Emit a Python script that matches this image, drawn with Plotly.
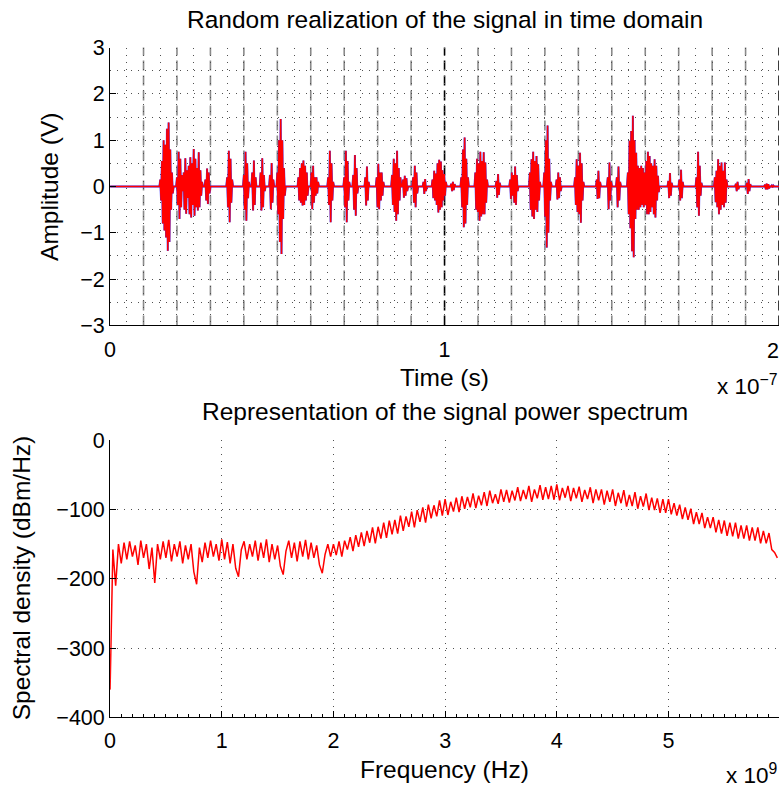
import plotly.graph_objects as go
import numpy as np

FONT = "Liberation Sans, Arial, sans-serif"

# ---------------- time-domain signal ----------------
# each pulse: start time (ns) and the successive peak values (V)
DT_NS = 0.25
pulse_start_ns = [15.0, 20.0, 22.0, 28.5, 35.0, 40.0, 42.5, 45.0, 47.8, 50.0,
                  56.3, 60.2, 65.2, 70.0, 72.7, 76.3, 79.7, 84.3, 87.6, 90.6,
                  93.7, 96.4, 102.0, 105.0, 109.2, 115.5, 119.6, 125.5, 129.8, 133.5,
                  139.0, 145.5, 148.8, 151.5, 154.8, 166.9, 170.2, 175.3, 180.8, 187.1,
                  190.4, 195.8, 197.8]
pulse_peaks_v = [
    [0.15, -0.3, 0.55, -0.8, 1.0, -0.95, 0.9, -1.1, 1.25, -1.39, 1.38, -1.2, 0.8, -0.5, 0.3, -0.15],
    [0.2, -0.4, 0.75, -0.7, 0.6, -0.45, 0.25, -0.1],
    [0.3, -0.5, 0.61, -0.59, 0.35, -0.25, 0.45, -0.6, 0.63, -0.67, 0.5, -0.4, 0.81, -0.63, 0.6, -0.45,
     0.4, -0.52, 0.74, -0.45, 0.35, -0.2, 0.1],
    [0.15, -0.3, 0.39, -0.38, 0.3, -0.15],
    [0.2, -0.45, 0.77, -0.77, 0.6, -0.35, 0.15],
    [0.25, -0.5, 0.75, -0.74, 0.5, -0.25, 0.1],
    [0.3, -0.52, 0.56, -0.4, 0.2],
    [0.3, -0.52, 0.61, -0.45, 0.25, -0.1],
    [0.25, -0.49, 0.51, -0.35, 0.15],
    [0.3, -0.6, 1.0, -1.2, 1.46, -1.46, 1.0, -0.7, 0.4, -0.2],
    [0.2, -0.3, 0.4, -0.35, 0.5, -0.41, 0.56, -0.4, 0.45, -0.3, 0.3, -0.2],
    [0.3, -0.49, 0.45, -0.35, 0.2, -0.2, 0.2, -0.15, 0.1],
    [0.2, -0.4, 0.77, -0.77, 0.5, -0.3, 0.1],
    [0.2, -0.45, 0.77, -0.77, 0.55, -0.3, 0.1],
    [0.25, -0.5, 0.68, -0.63, 0.4, -0.15],
    [0.2, -0.41, 0.43, -0.3, 0.1],
    [0.2, -0.45, 0.49, -0.49, 0.3, -0.3, 0.3, -0.2, 0.1],
    [0.25, -0.4, 0.6, -0.55, 0.5, -0.74, 0.77, -0.6, 0.4, -0.3, 0.2],
    [0.15, -0.24, 0.23, -0.2, 0.18, -0.1],
    [0.2, -0.35, 0.45, -0.45, 0.3, -0.15],
    [0.1, -0.16, 0.16, -0.1],
    [0.15, -0.25, 0.34, -0.3, 0.28, -0.4, 0.5, -0.56, 0.58, -0.5, 0.54, -0.45, 0.35, -0.3, 0.27, -0.2, 0.1],
    [0.06, -0.1, 0.1, -0.08, 0.05],
    [0.2, -0.45, 0.8, -0.88, 1.06, -0.8, 0.6, -0.4, 0.2],
    [0.3, -0.5, 0.6, -0.55, 0.5, -0.74, 0.75, -0.65, 0.55, -0.6, 0.74, -0.6, 0.52, -0.35, 0.15],
    [0.12, -0.24, 0.27, -0.18, 0.08],
    [0.15, -0.27, 0.3, -0.2, 0.25, -0.35, 0.43, -0.4, 0.25, -0.1],
    [0.3, -0.5, 0.59, -0.65, 0.75, -0.7, 0.55, -0.5, 0.66, -0.55, 0.48, -0.3, 0.1],
    [0.3, -0.65, 1.0, -1.32, 1.32, -1.0, 0.6, -0.3, 0.1],
    [0.15, -0.28, 0.3, -0.25, 0.2, -0.1],
    [0.2, -0.4, 0.59, -0.55, 0.45, -0.6, 0.73, -0.78, 0.5, -0.3, 0.1],
    [0.15, -0.27, 0.34, -0.25, 0.1],
    [0.2, -0.49, 0.52, -0.3, 0.1],
    [0.2, -0.45, 0.43, -0.3, 0.1],
    [0.3, -0.6, 0.99, -0.9, 1.2, -1.4, 1.53, -1.53, 1.0, -0.7, 0.73, -0.5, 0.45, -0.5, 0.4, -0.45,
     0.45, -0.4, 0.4, -0.45, 0.3, -0.4, 0.55, -0.6, 0.75, -0.6, 0.66, -0.55, 0.5, -0.45, 0.45, -0.6,
     0.59, -0.67, 0.45, -0.3, 0.23, -0.12],
    [0.12, -0.25, 0.29, -0.2, 0.08],
    [0.15, -0.3, 0.36, -0.25, 0.1],
    [0.2, -0.45, 0.75, -0.63, 0.45, -0.2, 0.08],
    [0.2, -0.34, 0.34, -0.45, 0.59, -0.6, 0.45, -0.5, 0.52, -0.4, 0.34, -0.45, 0.52, -0.35, 0.15],
    [0.06, -0.1, 0.1, -0.06],
    [0.08, -0.16, 0.16, -0.1, 0.05],
    [0.04, -0.06, 0.06, -0.06, 0.05, -0.04],
    [0.02, -0.02, 0.02],
]
T_END_NS = 200.0
time_ticks = [0, 1, 2]                                # x 1e-7 s
time_tick_text = ["0", "1", "2"]
frame_lines_ns = [10 * k for k in range(1, 21)]      # dashed frame markers
frame_black_ns = [100, 200]
minor_grid_ns = [5 * k for k in range(0, 41)]

# ---------------- power spectrum ----------------
DF_GHZ = 0.025
spec_db = [
    -360, -158, -210, -150, -178, -148, -172, -146, -168, -152,
    -180, -145, -170, -150, -186, -155, -206, -150, -172, -146,
    -170, -144, -175, -150, -168, -146, -178, -152, -172, -150,
    -190, -208, -155, -176, -148, -170, -145, -168, -150, -174,
    -143, -172, -147, -178, -150, -185, -197, -158, -146, -172,
    -150, -168, -145, -174, -148, -170, -143, -176, -150, -172,
    -152, -182, -194, -160, -145, -170, -148, -175, -146, -168,
    -144, -172, -148, -170, -152, -180, -192, -165, -150, -168,
    -150, -166, -146, -168, -145, -158, -140, -160, -137, -154,
    -133, -153, -131, -148, -126, -149, -125, -142, -119, -141,
    -116, -136, -115, -135, -109, -131, -110, -125, -103, -126,
    -101, -118, -97, -119, -93, -113, -94, -110, -87, -109,
    -85, -108, -89, -103, -83, -104, -81, -99, -82, -97,
    -77, -98, -80, -94, -75, -95, -73, -91, -78, -92,
    -71, -89, -72, -90, -73, -87, -68, -88, -72, -85,
    -66, -89, -71, -84, -65, -86, -68, -85, -66, -86,
    -64, -87, -69, -83, -66, -88, -69, -84, -67, -89,
    -72, -85, -68, -91, -71, -87, -71, -93, -73, -89,
    -71, -95, -76, -91, -72, -96, -79, -95, -75, -99,
    -81, -96, -77, -101, -83, -101, -84, -105, -85, -105,
    -85, -107, -91, -109, -93, -114, -97, -115, -99, -121,
    -104, -121, -105, -127, -111, -127, -111, -133, -115, -135,
    -116, -138, -119, -139, -119, -142, -123, -142, -123, -145,
    -126, -145, -126, -149, -131, -149, -134, -158, -162, -170,
]
freq_ticks = [0, 1, 2, 3, 4, 5]
F_MAX_GHZ = 5.99

# ---------------- build signal arrays ----------------
t_pts, v_pts = [0.0], [0.0]
for s, pk in zip(pulse_start_ns, pulse_peaks_v):
    ts = [s + i * DT_NS for i in range(len(pk))]
    if ts[0] - DT_NS > t_pts[-1]:
        t_pts.append(ts[0] - DT_NS); v_pts.append(0.0)
    t_pts += ts; v_pts += pk
    t_pts.append(ts[-1] + DT_NS); v_pts.append(0.0)
t_pts.append(T_END_NS); v_pts.append(0.0)
t_s = np.array(t_pts) * 1e-9
v = np.array(v_pts)

freq = np.arange(len(spec_db)) * DF_GHZ * 1e9

# ---------------- page-position helpers (compensate page framing) ----------------
W, H = 780, 796
SX, OX = 0.982, 7.0
SY, OY = 0.972, 11.6
def px(xp):   # target pixel x -> paper fraction
    return ((xp - OX) / SX) / W
def py(yp):   # target pixel y (from top) -> paper fraction
    return 1 - ((yp - OY) / SY) / H

fig = go.Figure()
fig.add_trace(go.Scatter(x=t_s, y=v, mode="lines", line=dict(color="#3030ff", width=2.0),
                         xaxis="x", yaxis="y", hoverinfo="skip"))
fig.add_trace(go.Scatter(x=t_s, y=v, mode="lines", line=dict(color="#ff0000", width=1.5),
                         xaxis="x", yaxis="y"))
fig.add_trace(go.Scatter(x=freq, y=spec_db, mode="lines", line=dict(color="#ff0000", width=1.5),
                         xaxis="x2", yaxis="y2"))

DOT = "1px,6px"
GRIDC = "#505050"
TICK_SIZE = 21.5
tickfont = dict(family=FONT, size=TICK_SIZE, color="black")
common = dict(showline=True, linecolor="black", linewidth=1, ticks="inside", ticklen=6,
              tickcolor="black", tickfont=tickfont, zeroline=False)

XD = [px(110), min(px(772), 1.0)]
# last time tick label sits at the page edge: drawn as an edge-anchored text below
shown_time_text = time_tick_text[:-1] + [""]
fig.update_layout(
    width=W, height=H, margin=dict(l=0, r=0, t=0, b=0),
    paper_bgcolor="white", plot_bgcolor="white", showlegend=False,
    xaxis=dict(domain=XD, range=[0, T_END_NS * 1e-9], tickmode="array",
               tickvals=[t * 1e-7 for t in time_ticks], ticktext=shown_time_text, showgrid=False,
               minor=dict(tickmode="array", tickvals=[g * 1e-9 for g in minor_grid_ns],
                          showgrid=True, gridcolor=GRIDC, griddash=DOT, gridwidth=1, ticks=""),
               ticklabelstandoff=5, anchor="y", **common),
    yaxis=dict(domain=[py(326.7), py(48.3)], range=[-3, 3], tickmode="array",
               tickvals=[-3, -2, -1, 0, 1, 2, 3], showgrid=True, gridcolor=GRIDC, griddash=DOT,
               minor=dict(tickmode="array", tickvals=[-2.5, -1.5, -0.5, 0.5, 1.5, 2.5],
                          showgrid=True, gridcolor=GRIDC, griddash=DOT, gridwidth=1, ticks=""),
               ticklabelstandoff=0, anchor="x", **common),
    xaxis2=dict(domain=XD, range=[0, F_MAX_GHZ * 1e9], tickmode="array",
                tickvals=[f * 1e9 for f in freq_ticks], ticktext=[str(f) for f in freq_ticks],
                showgrid=True, gridcolor=GRIDC, griddash=DOT,
                minor=dict(tickmode="array", tickvals=[k * 1e8 for k in range(0, 60)],
                           ticks="inside", ticklen=3, tickcolor="black", showgrid=False),
                ticklabelstandoff=4, anchor="y2", **common),
    yaxis2=dict(domain=[py(719.5), py(441.7)], range=[-400, 0], tickmode="array",
                tickvals=[-400, -300, -200, -100, 0], showgrid=True, gridcolor=GRIDC, griddash=DOT,
                ticklabelstandoff=0, anchor="x2", **common),
)

shapes = []
for g in frame_lines_ns:
    black = g in frame_black_ns
    shapes.append(dict(type="line", xref="x", yref="y domain", x0=g * 1e-9, x1=g * 1e-9, y0=0, y1=1,
                       line=dict(color="black" if black else "#8a8a8a", width=1.6,
                                 dash="10px,5px"), layer="below"))
fig.update_layout(shapes=shapes)

ann_font = dict(family=FONT, size=24.5, color="black")
anns = [
    dict(text="Random realization of the signal in time domain", x=px(441), y=py(20)),
    dict(text="Representation of the signal power spectrum", x=px(441), y=py(413)),
    dict(text="Time (s)", x=px(441), y=py(379)),
    dict(text="Frequency (Hz)", x=px(441), y=py(772)),
    dict(text="Amplitude (V)", x=px(50), y=py(187.5), textangle=-90),
    dict(text="Spectral density (dBm/Hz)", x=px(22), y=py(580), textangle=-90),
]
for a in anns:
    fig.add_annotation(xref="paper", yref="paper", showarrow=False, xanchor="center",
                       yanchor="middle", font=ann_font, **a)
# last tick label of the time axis, kept inside the page
fig.add_annotation(text=time_tick_text[-1], xref="paper", yref="paper", x=1.0, y=py(352),
                   xanchor="right", yanchor="middle", showarrow=False, borderpad=0,
                   font=dict(family=FONT, size=TICK_SIZE, color="black"))
exp_font = dict(family=FONT, size=22.5, color="black")
fig.add_annotation(text="x 10<sup>−7</sup>", xref="paper", yref="paper", x=1.0, y=py(386),
                   xanchor="right", yanchor="middle", showarrow=False, font=exp_font)
fig.add_annotation(text="x 10<sup>9</sup>", xref="paper", yref="paper", x=1.0, y=py(776),
                   xanchor="right", yanchor="middle", showarrow=False, font=exp_font)

fig.write_html("out.html")
